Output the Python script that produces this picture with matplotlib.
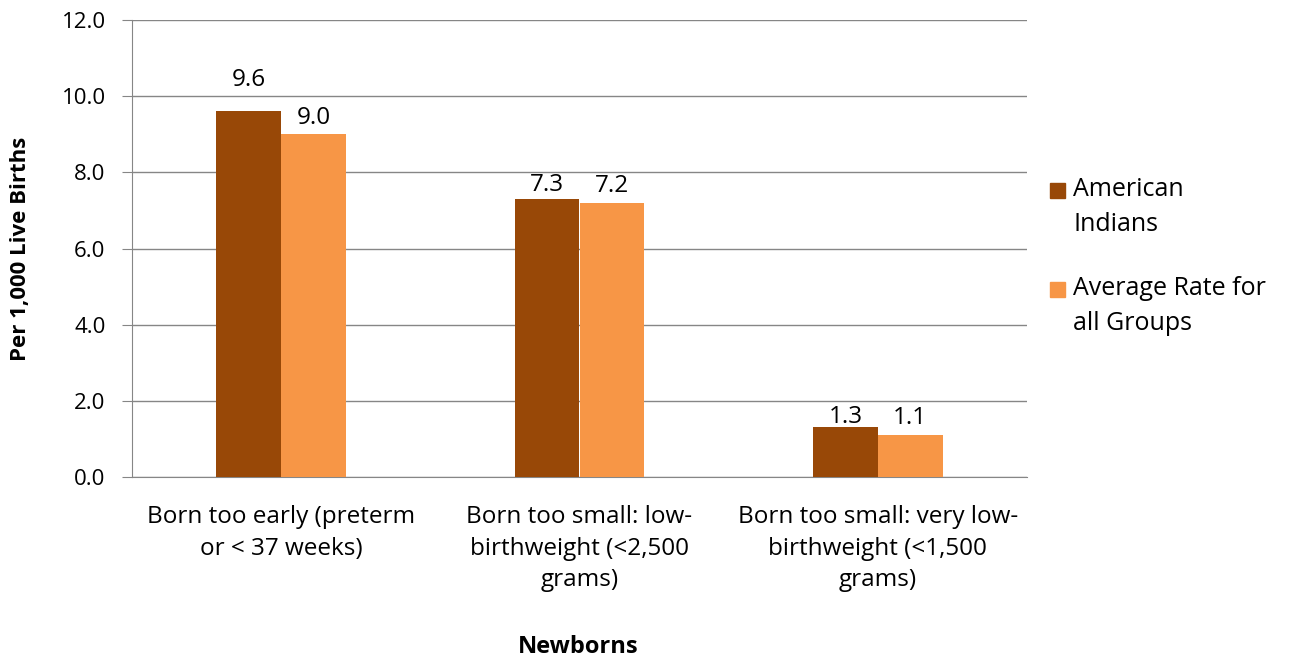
import numpy as np
import matplotlib
matplotlib.use("Agg")
import matplotlib.pyplot as plt
from matplotlib.patches import Rectangle

plt.rcParams["font.family"] = ["Open Sans", "DejaVu Sans"]

categories = [
    "Born too early (preterm\nor < 37 weeks)",
    "Born too small: low-\nbirthweight (<2,500\ngrams)",
    "Born too small: very low-\nbirthweight (<1,500\ngrams)",
]
series_names = ["American\nIndians", "Average Rate for\nall Groups"]
american_indians = [9.6, 7.3, 1.3]
average_all = [9.0, 7.2, 1.1]
colors = ["#984807", "#F79646"]

# how far each value label sits above its bar (pixels), as placed in the original
label_lift = [[31, 14, 10], [16, 17, 17]]

fig = plt.figure(figsize=(12.94, 6.6), dpi=100)
ax = fig.add_axes([132 / 1294, 1 - 477 / 660, (1027 - 132) / 1294, (477 - 20) / 660])

x = np.arange(len(categories))
w = 0.217
for i, (vals, col) in enumerate(zip([american_indians, average_all], colors)):
    bars = ax.bar(x + (i - 0.5) * w, vals, width=w, color=col, zorder=3)
    for b, v, lift in zip(bars, vals, label_lift[i]):
        ax.annotate(f"{v:.1f}", (b.get_x() + b.get_width() / 2, v),
                    xytext=(0, lift * 0.72), textcoords="offset points",
                    ha="center", va="center", fontsize=17.5)

ax.set_xlim(-0.5, len(categories) - 0.5)
ax.set_ylim(0, 12)
ax.set_yticks(np.arange(0, 12.1, 2))
ax.set_yticklabels([f"{t:.1f}" for t in np.arange(0, 12.1, 2)], fontsize=16)
ax.yaxis.grid(True, color="#868686", linewidth=1, zorder=0)
ax.tick_params(axis="y", length=7, color="#868686", pad=12)
ax.set_xticks(x)
ax.set_xticklabels(categories, fontsize=17.5, linespacing=1.43)
ax.tick_params(axis="x", length=0, pad=20)
for s in ["top", "right"]:
    ax.spines[s].set_visible(False)
for s in ["left", "bottom"]:
    ax.spines[s].set_color("#868686")

ax.set_ylabel("Per 1,000 Live Births", fontsize=16, fontweight="bold", labelpad=22)
fig.text(578 / 1294, 1 - 647 / 660, "Newborns", fontsize=17, fontweight="bold",
         ha="center", va="center")

# legend drawn by hand so squares line up with first text line
leg_y = [190, 289]
for name, col, yc in zip(series_names, colors, leg_y):
    fig.patches.append(Rectangle((1050 / 1294, 1 - (yc + 7.5) / 660), 15 / 1294, 15 / 660,
                                 transform=fig.transFigure, color=col))
    fig.text(1073 / 1294, 1 - (yc - 13) / 660, name, fontsize=18, ha="left", va="top",
             linespacing=1.55)

fig.savefig("out.png", dpi=100)
